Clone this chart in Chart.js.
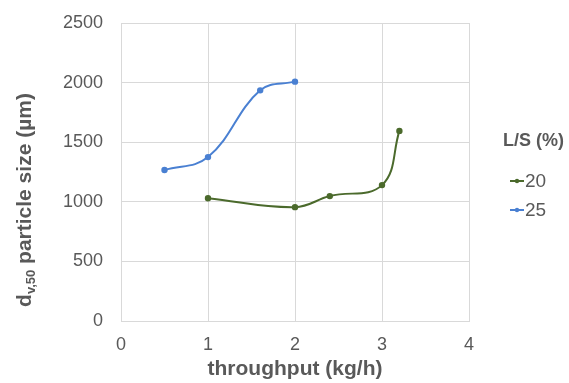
<!DOCTYPE html>
<html>
<head>
  <title>d50 vs throughput</title>
  <script src="https://cdn.jsdelivr.net/npm/chart.js"></script>
  <style>
    html, body { margin: 0; padding: 0; background: #fff; }
    #wrap { width: 569px; height: 383px; }
  </style>
</head>
<body>
<div id="wrap"><canvas id="myChart"></canvas></div>

<script>
  // L/S = 20 %
  const throughput20 = [1, 2, 2.4, 3, 3.2];
  const size20 = [1030, 955, 1048, 1140, 1595];
  // L/S = 25 %
  const throughput25 = [0.5, 1, 1.6, 2];
  const size25 = [1267, 1375, 1935, 2008];

  const seriesLabels = ['20', '25'];
  const seriesColors = ['#4b6a2c', '#4a80d2'];
  const xTicks = [0, 1, 2, 3, 4];
  const yTicks = [0, 500, 1000, 1500, 2000, 2500];

  const grey = '#595959';
  const fontFam = '"Liberation Sans", Arial, sans-serif';

  function toPoints(xs, ys) {
    return xs.map((x, i) => ({ x: x, y: ys[i] }));
  }

  // y title with subscript + legend with line-and-dot markers
  const extras = {
    id: 'extras',
    afterDraw(chart) {
      const ctx = chart.ctx;
      ctx.save();
      // y axis title
      ctx.fillStyle = grey;
      ctx.textBaseline = 'alphabetic';
      ctx.textAlign = 'left';
      const big = 'bold 21px ' + fontFam;
      const small = 'bold 13px ' + fontFam;
      const rest = ' particle size (\u00b5m)';
      ctx.font = big;
      const wd = ctx.measureText('d').width;
      const wr = ctx.measureText(rest).width;
      ctx.font = small;
      const ws = ctx.measureText('v,50').width;
      const total = wd + ws + wr;
      ctx.translate(31, 200);
      ctx.rotate(-Math.PI / 2);
      let x = -total / 2;
      ctx.font = big;
      ctx.fillText('d', x, 0);
      x += wd;
      ctx.font = small;
      ctx.fillText('v,50', x, 4);
      x += ws;
      ctx.font = big;
      ctx.fillText(rest, x, 0);
      ctx.restore();

      // legend
      ctx.save();
      ctx.fillStyle = grey;
      ctx.textBaseline = 'middle';
      ctx.textAlign = 'left';
      ctx.font = 'bold 18px ' + fontFam;
      ctx.fillText('L/S (%)', 503, 141);
      chart.data.datasets.forEach((ds, i) => {
        const y = 181 + i * 29;
        ctx.strokeStyle = ds.borderColor;
        ctx.lineWidth = 2;
        ctx.beginPath();
        ctx.moveTo(510, y);
        ctx.lineTo(524, y);
        ctx.stroke();
        ctx.fillStyle = ds.borderColor;
        ctx.beginPath();
        ctx.arc(517, y, 2.2, 0, Math.PI * 2);
        ctx.fill();
        ctx.fillStyle = grey;
        ctx.font = '19px ' + fontFam;
        ctx.fillText(ds.label, 525, y + 1);
      });
      ctx.restore();
    }
  };

  const ctx = document.getElementById('myChart').getContext('2d');
  const myChart = new Chart(ctx, {
    type: 'scatter',
    data: {
      datasets: [
        {
          label: seriesLabels[0],
          data: toPoints(throughput20, size20),
          borderColor: seriesColors[0],
          backgroundColor: seriesColors[0],
          showLine: true,
          tension: 0.4,
          borderWidth: 2,
          pointRadius: 2.2,
        },
        {
          label: seriesLabels[1],
          data: toPoints(throughput25, size25),
          borderColor: seriesColors[1],
          backgroundColor: seriesColors[1],
          showLine: true,
          tension: 0.4,
          borderWidth: 2,
          pointRadius: 2.2,
        }
      ]
    },
    options: {
      responsive: true,
      maintainAspectRatio: false,
      animation: false,
      // chart area ends up at about 121..469 x 23..321
      layout: { padding: { top: 23, right: 100, left: 0, bottom: 0 } },
      plugins: {
        legend: { display: false },
        tooltip: { enabled: false }
      },
      scales: {
        x: {
          type: 'linear',
          min: 0,
          max: 4,
          afterBuildTicks: s => { s.ticks = xTicks.map(v => ({ value: v })); },
          afterFit: s => { s.height = 62; },
          grid: { color: '#d9d9d9', drawTicks: false },
          border: { color: '#d9d9d9' },
          ticks: { color: grey, font: { size: 18, family: fontFam }, padding: 13, callback: v => String(v) },
          title: {
            display: true,
            text: 'throughput (kg/h)',
            color: grey,
            font: { size: 21, weight: 'bold', family: fontFam },
            padding: { top: 0, bottom: 1 }
          }
        },
        y: {
          min: 0,
          max: 2500,
          afterBuildTicks: s => { s.ticks = yTicks.map(v => ({ value: v })); },
          // tick padding would otherwise push the plot top down
          afterFit: s => { s.width = 121; s.paddingTop = 0; s.paddingBottom = 0; },
          grid: { color: '#d9d9d9', drawTicks: false },
          border: { color: '#d9d9d9' },
          ticks: { color: grey, font: { size: 18, family: fontFam }, padding: 18, callback: v => String(v) }
        }
      }
    },
    plugins: [extras]
  });
</script>
</body>
</html>
